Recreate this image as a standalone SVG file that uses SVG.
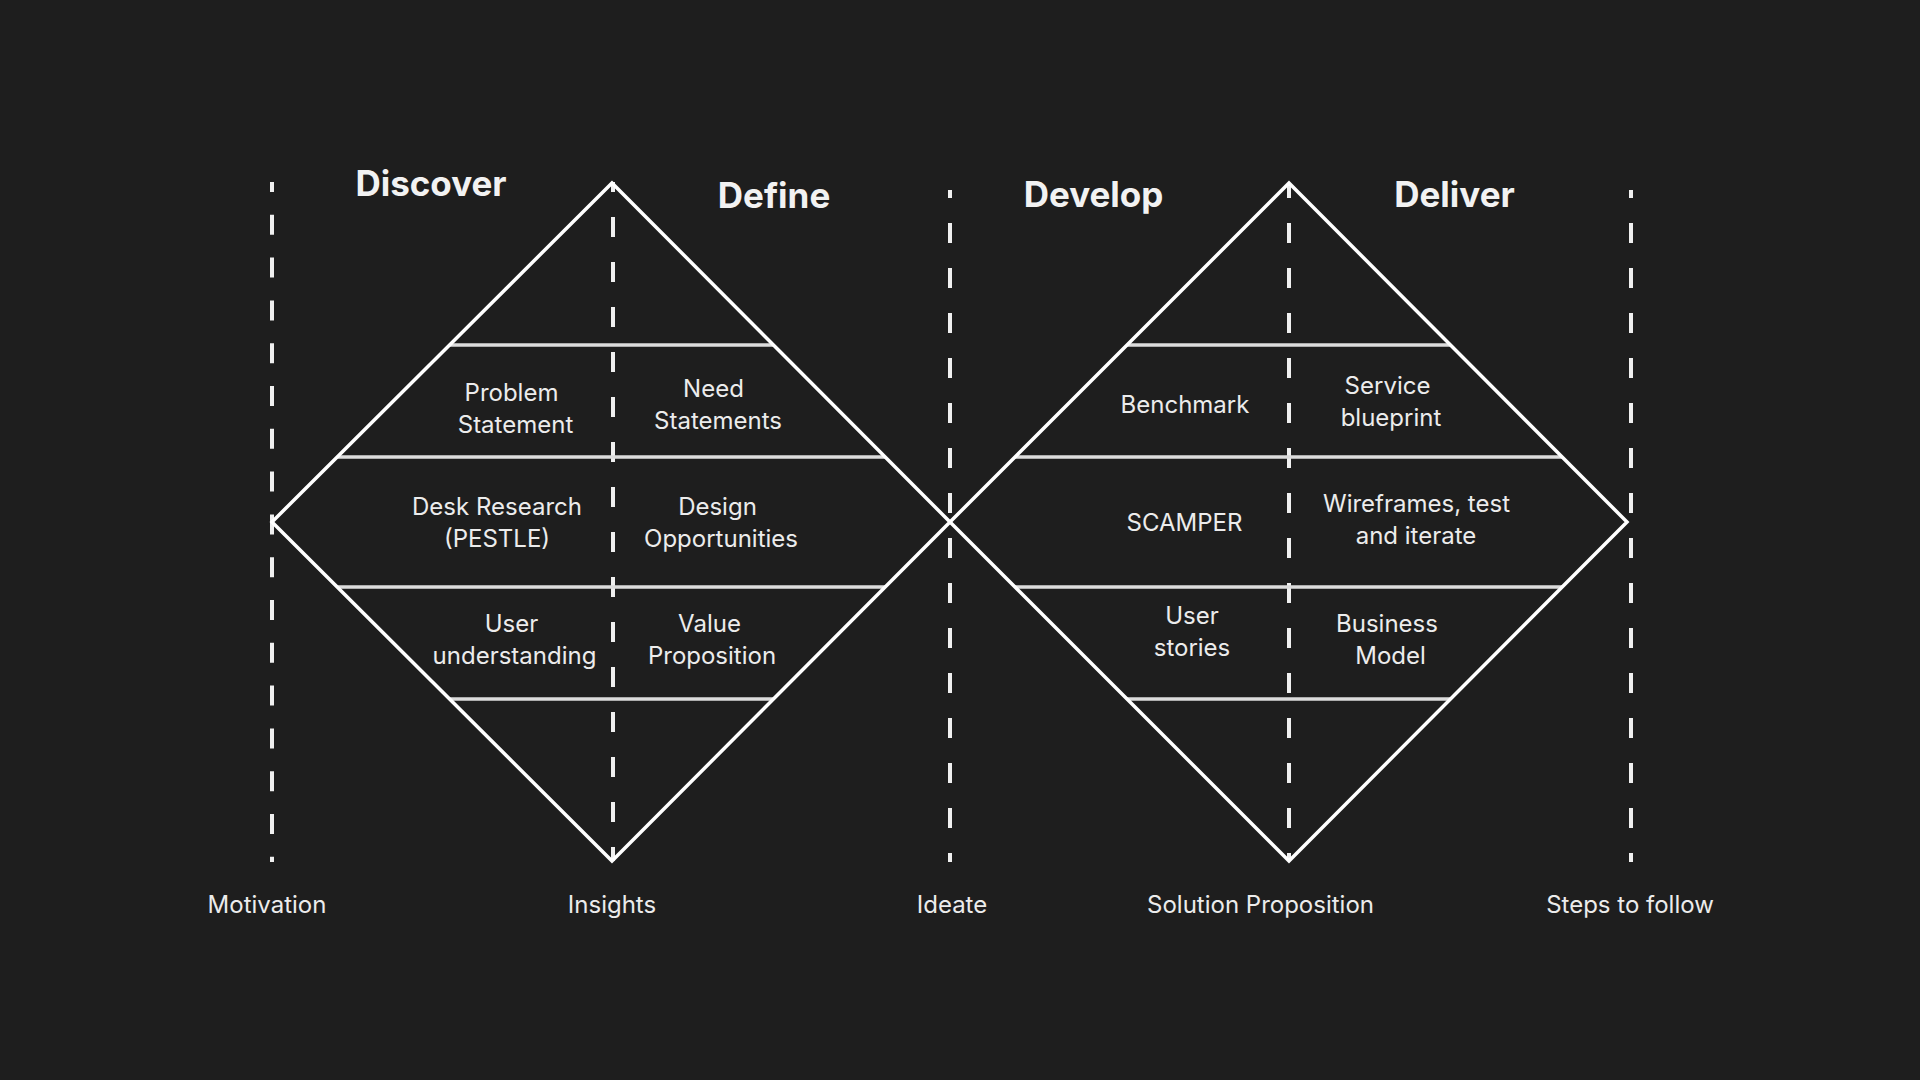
<svg xmlns="http://www.w3.org/2000/svg" width="1920" height="1080" viewBox="0 0 1920 1080">
  <style>
    .bg { fill: #1e1e1e; }
    .diamond { fill: none; stroke: #ffffff; stroke-width: 3.5; stroke-linejoin: miter; }
    .band { stroke: #dcdcdc; stroke-width: 3.5; }
    .guide { stroke: #f0f0f0; stroke-width: 4; fill: none; }
    .title { font-family: Inter, "Liberation Sans", sans-serif; font-weight: 700; font-size: 35px; fill: #f2f2f2; text-anchor: middle; }
    .label { font-family: Inter, "Liberation Sans", sans-serif; font-weight: 400; font-size: 24px; fill: #ececec; text-anchor: middle; }
  </style>
  <rect class="bg" x="0" y="0" width="1920" height="1080"/>

  <g id="guides">
    <line class="guide" x1="272" y1="182" x2="272" y2="862" stroke-dasharray="20 22.8" stroke-dashoffset="10"/>
    <line class="guide" x1="613" y1="182" x2="613" y2="861" stroke-dasharray="20 25" stroke-dashoffset="10"/>
    <line class="guide" x1="950" y1="190" x2="950" y2="862" stroke-dasharray="20 25" stroke-dashoffset="12"/>
    <line class="guide" x1="1289" y1="183" x2="1289" y2="861" stroke-dasharray="20 25" stroke-dashoffset="5"/>
    <line class="guide" x1="1631" y1="190" x2="1631" y2="862" stroke-dasharray="20 25" stroke-dashoffset="12"/>
  </g>

  <g id="diamond-left">
    <line class="band" x1="449.5" y1="345" x2="773.5" y2="345"/>
    <line class="band" x1="337" y1="457" x2="885" y2="457"/>
    <line class="band" x1="337" y1="587" x2="885" y2="587"/>
    <line class="band" x1="449.5" y1="699" x2="773.5" y2="699"/>
    <polygon class="diamond" points="272,522 612,183 950,522 612,861"/>
  </g>

  <g id="diamond-right">
    <line class="band" x1="1127" y1="345" x2="1450.5" y2="345"/>
    <line class="band" x1="1015" y1="457" x2="1562" y2="457"/>
    <line class="band" x1="1015" y1="587" x2="1562" y2="587"/>
    <line class="band" x1="1127" y1="699" x2="1450.5" y2="699"/>
    <polygon class="diamond" points="950,522 1289,183 1627,522 1289,861"/>
  </g>

  <g id="titles">
    <text class="title" x="431" y="196">Discover</text>
    <text class="title" x="774" y="207.5">Define</text>
    <text class="title" x="1093.5" y="207">Develop</text>
    <text class="title" x="1454.5" y="207">Deliver</text>
  </g>

  <g id="problem-statement">
    <text class="label" x="511.5" y="400.5">Problem</text>
    <text class="label" x="515.5" y="432.5">Statement</text>
  </g>
  <g id="need-statements">
    <text class="label" x="713.5" y="396.5">Need</text>
    <text class="label" x="718" y="428.5">Statements</text>
  </g>
  <g id="desk-research">
    <text class="label" x="497" y="515">Desk Research</text>
    <text class="label" x="497" y="547">(PESTLE)</text>
  </g>
  <g id="design-opportunities">
    <text class="label" x="717.5" y="515">Design</text>
    <text class="label" x="721" y="547">Opportunities</text>
  </g>
  <g id="user-understanding">
    <text class="label" x="511.5" y="631.5">User</text>
    <text class="label" x="514.5" y="663.5">understanding</text>
  </g>
  <g id="value-proposition">
    <text class="label" x="709.5" y="631.5">Value</text>
    <text class="label" x="712" y="663.5">Proposition</text>
  </g>

  <g id="benchmark">
    <text class="label" x="1185" y="412.5">Benchmark</text>
  </g>
  <g id="service-blueprint">
    <text class="label" x="1387.5" y="393.5">Service</text>
    <text class="label" x="1391" y="425.5">blueprint</text>
  </g>
  <g id="scamper">
    <text class="label" x="1184.5" y="530.5">SCAMPER</text>
  </g>
  <g id="wireframes">
    <text class="label" x="1416.5" y="511.5">Wireframes, test</text>
    <text class="label" x="1416" y="543.5">and iterate</text>
  </g>
  <g id="user-stories">
    <text class="label" x="1192" y="624">User</text>
    <text class="label" x="1192" y="656">stories</text>
  </g>
  <g id="business-model">
    <text class="label" x="1387" y="631.5">Business</text>
    <text class="label" x="1390.5" y="663.5">Model</text>
  </g>

  <g id="stage-labels">
    <text class="label" x="267" y="913">Motivation</text>
    <text class="label" x="612" y="913">Insights</text>
    <text class="label" x="952" y="913">Ideate</text>
    <text class="label" x="1260.5" y="913">Solution Proposition</text>
    <text class="label" x="1630" y="913">Steps to follow</text>
  </g>
</svg>
